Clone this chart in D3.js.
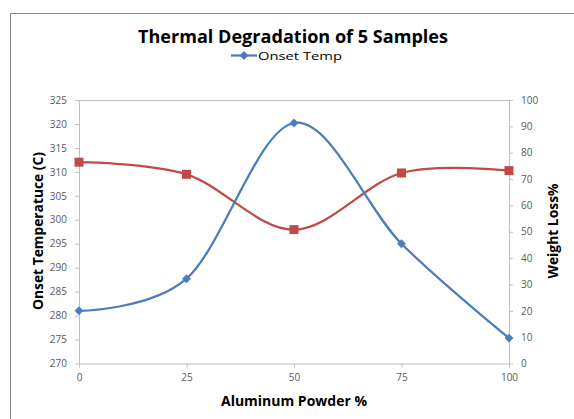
<!DOCTYPE html>
<html>
<head>
<meta charset="utf-8">
<script src="https://cdn.jsdelivr.net/npm/d3@7"></script>
<style>
  html, body { margin: 0; padding: 0; background: #fff; }
  svg { display: block; font-family: "Open Sans", "Liberation Sans", sans-serif; }
</style>
</head>
<body>
<svg id="chart" width="574" height="419"></svg>
<script>
// Aluminum powder content of each sample (%)
const powder = [0, 25, 50, 75, 100];
// Onset temperature (C), left axis
const onsetTemp = [281, 287.7, 320.2, 295, 275.3];
// Weight loss (%), right axis
const weightLoss = [76.4, 71.8, 50.8, 72.3, 73.2];
// Axis tick values
const xTicks = [0, 25, 50, 75, 100];
const leftTicks = [270, 275, 280, 285, 290, 295, 300, 305, 310, 315, 320, 325];
const rightTicks = [0, 10, 20, 30, 40, 50, 60, 70, 80, 90, 100];

const svg = d3.select("#chart");
const plot = { left: 79, right: 509, top: 100, bottom: 363.5 };

const blue = "#4A7EBB", red = "#BE4B48", axisGray = "#BFBFBF", textGray = "#595959";

// Outer chart frame
svg.append("rect")
  .attr("x", 10.5).attr("y", 13.5)
  .attr("width", 700).attr("height", 500)
  .attr("fill", "#fff").attr("stroke", "#888").attr("stroke-width", 1);

const x = d3.scaleLinear().domain([0, 100]).range([plot.left, plot.right]);
const yL = d3.scaleLinear().domain([270, 325]).range([plot.bottom, plot.top]);
const yR = d3.scaleLinear().domain([0, 100]).range([plot.bottom, plot.top]);

// Plot area top border
svg.append("line")
  .attr("x1", plot.left).attr("x2", plot.right)
  .attr("y1", plot.top + 0.5).attr("y2", plot.top + 0.5)
  .attr("stroke", axisGray);

function styleAxis(g) {
  g.selectAll(".domain").attr("stroke", axisGray);
  g.selectAll(".tick line").attr("stroke", axisGray);
  g.selectAll(".tick text")
    .attr("fill", textGray)
    .style("font-family", "'Open Sans', 'Liberation Sans', sans-serif")
    .style("font-size", "10px");
}

svg.append("g")
  .attr("transform", `translate(0,${plot.bottom})`)
  .call(d3.axisBottom(x).tickValues(xTicks).tickSize(4).tickSizeOuter(0).tickPadding(6))
  .call(styleAxis);

svg.append("g")
  .attr("transform", `translate(${plot.left},0)`)
  .call(d3.axisLeft(yL).tickValues(leftTicks).tickSize(4).tickSizeOuter(0).tickPadding(8))
  .call(styleAxis);

svg.append("g")
  .attr("transform", `translate(${plot.right},0)`)
  .call(d3.axisRight(yR).tickValues(rightTicks).tickSize(4).tickSizeOuter(0).tickPadding(8))
  .call(styleAxis);

// Smoothed series lines
const curve = d3.curveCardinal.tension(0);
const lineL = d3.line().x((d, i) => x(powder[i])).y(d => yL(d)).curve(curve);
const lineR = d3.line().x((d, i) => x(powder[i])).y(d => yR(d)).curve(curve);

svg.append("path").datum(weightLoss)
  .attr("d", lineR).attr("fill", "none").attr("stroke", red).attr("stroke-width", 2.25);
svg.append("path").datum(onsetTemp)
  .attr("d", lineL).attr("fill", "none").attr("stroke", blue).attr("stroke-width", 2.25);

// Markers
const diamond = d3.symbol().type(d3.symbolDiamond2).size(50);
svg.selectAll(".sq").data(weightLoss).join("rect")
  .attr("x", (d, i) => x(powder[i]) - 4.5).attr("y", d => yR(d) - 4.5)
  .attr("width", 9).attr("height", 9).attr("fill", red);
svg.selectAll(".dm").data(onsetTemp).join("path")
  .attr("d", diamond)
  .attr("transform", (d, i) => `translate(${x(powder[i])},${yL(d)})`)
  .attr("fill", blue);

// Title
svg.append("text")
  .attr("x", 293).attr("y", 43)
  .attr("text-anchor", "middle")
  .style("font-size", "18px").style("font-weight", "bold")
  .attr("fill", "#000")
  .attr("textLength", 310).attr("lengthAdjust", "spacingAndGlyphs")
  .text("Thermal Degradation of 5 Samples");

// Legend
const lg = svg.append("g");
lg.append("line").attr("x1", 231).attr("x2", 257).attr("y1", 55.5).attr("y2", 55.5)
  .attr("stroke", blue).attr("stroke-width", 2.25);
lg.append("path").attr("d", diamond).attr("transform", "translate(244,55.5)").attr("fill", blue);
lg.append("text").attr("x", 258).attr("y", 60)
  .style("font-size", "11.5px").attr("fill", "#000")
  .attr("textLength", 84).attr("lengthAdjust", "spacingAndGlyphs")
  .text("Onset Temp");

// Axis titles
svg.append("text")
  .attr("x", 294).attr("y", 406)
  .attr("text-anchor", "middle")
  .style("font-size", "14px").style("font-weight", "bold")
  .attr("textLength", 146).attr("lengthAdjust", "spacingAndGlyphs")
  .text("Aluminum Powder %");

svg.append("text")
  .attr("transform", "translate(43,231) rotate(-90)")
  .attr("text-anchor", "middle")
  .style("font-size", "14px").style("font-weight", "bold")
  .attr("textLength", 158).attr("lengthAdjust", "spacingAndGlyphs")
  .text("Onset Temperatuce (C)");

svg.append("text")
  .attr("transform", "translate(558,231) rotate(-90)")
  .attr("text-anchor", "middle")
  .style("font-size", "14px").style("font-weight", "bold")
  .attr("textLength", 95).attr("lengthAdjust", "spacingAndGlyphs")
  .text("Weight Loss%");
</script>
</body>
</html>
